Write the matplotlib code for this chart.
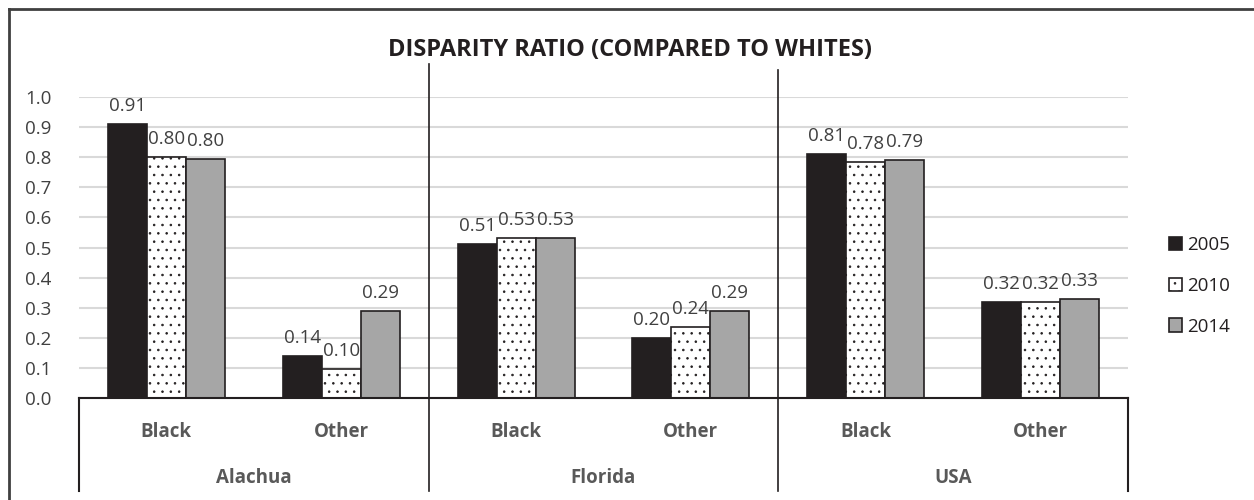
import matplotlib
matplotlib.use("Agg")
import matplotlib.pyplot as plt
from matplotlib.lines import Line2D
import numpy as np

plt.rcParams['font.family'] = ['Open Sans', 'DejaVu Sans']
plt.rcParams['hatch.linewidth'] = 0.6
plt.rcParams['hatch.color'] = '#444444'

regions = ["Alachua", "Florida", "USA"]
groups = ["Black", "Other"]
years = ["2005", "2010", "2014"]
v2005 = [0.91, 0.14, 0.51, 0.20, 0.81, 0.32]
v2010 = [0.80, 0.095, 0.53, 0.235, 0.785, 0.32]
v2014 = [0.795, 0.29, 0.533, 0.29, 0.79, 0.33]
lbl2005 = ["0.91", "0.14", "0.51", "0.20", "0.81", "0.32"]
lbl2010 = ["0.80", "0.10", "0.53", "0.24", "0.78", "0.32"]
lbl2014 = ["0.80", "0.29", "0.53", "0.29", "0.79", "0.33"]

W, H = 1254, 500
fig = plt.figure(figsize=(W/100, H/100), dpi=100)
ax = fig.add_axes([79/W, 1-398/H, (1128-79)/W, (398-97)/H])

x = np.arange(len(v2005))
bw = 0.223
styles = [
    dict(color='#231f20', edgecolor='#231f20', hatch=None),
    dict(color='white', edgecolor='#231f20', hatch='..'),
    dict(color='#a6a6a6', edgecolor='#231f20', hatch=None),
]
series = [v2005, v2010, v2014]
labels = [lbl2005, lbl2010, lbl2014]
handles = []
for i, (vals, st) in enumerate(zip(series, styles)):
    bars = ax.bar(x + (i-1)*bw, vals, width=bw, color=st['color'],
                  edgecolor=st['edgecolor'], hatch=st['hatch'], linewidth=1.2,
                  zorder=3, label=years[i])
    handles.append(bars)
    for xi, v, t in zip(x + (i-1)*bw, vals, labels[i]):
        ax.text(xi, v + 0.03, t, ha='center', va='bottom', fontsize=13.5,
                color='#404040', zorder=2)

ax.set_xlim(-0.5, 5.5)
ax.set_ylim(0, 1.0)
ax.set_yticks(np.arange(0, 1.01, 0.1))
ax.set_yticklabels([f"{t:.1f}" for t in np.arange(0, 1.01, 0.1)], fontsize=13.5, color='#404040')
ax.tick_params(axis='y', length=0, pad=20)
ax.tick_params(axis='x', length=0, labelbottom=False)
ax.yaxis.grid(True, color='#d9d9d9', linewidth=1.5, zorder=0)
ax.set_axisbelow(True)
for s in ['top', 'right', 'left']:
    ax.spines[s].set_visible(False)
ax.spines['bottom'].set_color('#231f20')
ax.spines['bottom'].set_linewidth(1.5)
ax.spines['bottom'].set_zorder(4)

tr = ax.get_xaxis_transform()
for i in range(6):
    ax.text(i, -0.113, groups[i % 2], transform=tr, ha='center', va='center',
            fontsize=13.5, fontweight='bold', color='#595959')
for j, r in enumerate(regions):
    ax.text(2*j + 0.5, -0.266, r, transform=tr, ha='center', va='center',
            fontsize=13.5, fontweight='bold', color='#595959')

ybot = (398-491)/301
for xv in [-0.5, 5.5]:
    ax.add_line(Line2D([xv, xv], [0, ybot], transform=tr, color='#231f20', lw=1.5, clip_on=False))
for xv, yt in [(1.5, (398-64)/301), (3.5, (398-70)/301)]:
    ax.add_line(Line2D([xv, xv], [yt, ybot], transform=tr, color='#231f20', lw=1.2, clip_on=False))

fig.text(630/W, 1-50/H, "DISPARITY RATIO (COMPARED TO WHITES)", ha='center', va='center',
         fontsize=17, fontweight='bold', color='#231f20')

leg = fig.legend(handles=handles, labels=years, loc='center left',
                 bbox_to_anchor=(1152/W, 1-286/H), frameon=False, fontsize=13.5,
                 handlelength=0.7, handleheight=0.7, handletextpad=0.3,
                 labelspacing=1.2, labelcolor='#231f20')

fig.add_artist(Line2D([9/W, 9/W], [0, 1-9/H], color='#404040', lw=2))
fig.add_artist(Line2D([9/W, 1], [1-9/H, 1-9/H], color='#404040', lw=2))

fig.savefig("out.png", dpi=100)
